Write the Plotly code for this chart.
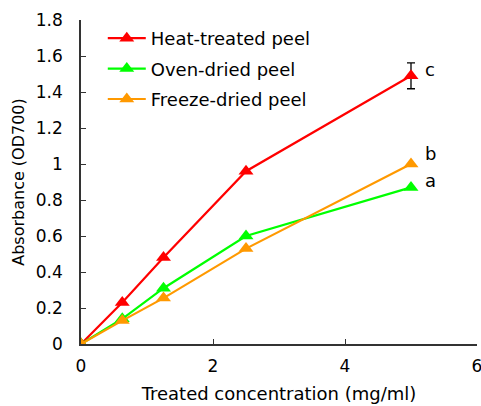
import plotly.graph_objects as go

conc = [0, 0.625, 1.25, 2.5, 5]
heat = [0, 0.23, 0.48, 0.96, 1.49]
heat_err = [0, 0, 0, 0, 0.072]
oven = [0, 0.14, 0.31, 0.60, 0.87]
freeze = [0, 0.13, 0.255, 0.53, 1.00]
names = ["Heat-treated peel", "Oven-dried peel", "Freeze-dried peel"]
letters = ["c", "a", "b"]
colors = ["#ff0000", "#00ff00", "#ff9900"]

FONT = "DejaVu Sans"

fig = go.Figure()
series = [heat, oven, freeze]
for i, (ys, nm, col) in enumerate(zip(series, names, colors)):
    kw = {}
    if i == 0:
        kw["error_y"] = dict(type="data", array=heat_err, color="black", thickness=1.3, width=4)
    fig.add_trace(go.Scatter(x=conc, y=ys, name=nm, mode="lines+markers", legendgroup=f"g{i}",
                             line=dict(color=col, width=2.2),
                             marker=dict(symbol="triangle-up", size=13, color=col), **kw))

shifts = {"c": 6, "a": 7, "b": 11}
for yv, t in zip([heat[-1], oven[-1], freeze[-1]], letters):
    fig.add_annotation(x=conc[-1], y=yv, text=t, showarrow=False, xanchor="left",
                       xshift=12, yshift=shifts[t],
                       font=dict(size=18, color="black", family=FONT))

fig.update_layout(
    width=481, height=406,
    margin=dict(l=81, r=4, t=20, b=62),
    paper_bgcolor="white", plot_bgcolor="white",
    font=dict(family=FONT, size=17, color="black"),
    showlegend=True,
    legend=dict(x=0.055, y=1.0, xanchor="left", yanchor="top", bgcolor="rgba(0,0,0,0)",
                font=dict(size=18, family=FONT), itemwidth=38, tracegroupgap=4,
                traceorder="grouped"),
    xaxis=dict(range=[0, 6], tickvals=[0, 2, 4, 6], showline=True, linecolor="#333",
               linewidth=1.5, ticks="inside", ticklen=5, tickcolor="#333", showgrid=False,
               zeroline=False, automargin=False, tickfont=dict(size=17), ticklabelstandoff=6,
               ticklabeloverflow="allow",
               title=dict(text="Treated concentration (mg/ml)", font=dict(size=18), standoff=12)),
    yaxis=dict(range=[0, 1.8], tickvals=[0, 0.2, 0.4, 0.6, 0.8, 1, 1.2, 1.4, 1.6, 1.8],
               ticktext=["0", "0.2", "0.4", "0.6", "0.8", "1", "1.2", "1.4", "1.6", "1.8"],
               showline=True, linecolor="#333", linewidth=1.5, ticks="inside", ticklen=5,
               tickcolor="#333", showgrid=False, zeroline=False, automargin=False,
               tickfont=dict(size=17), ticklabelstandoff=13,
               title=dict(text="Absorbance (OD700)", font=dict(size=16), standoff=7)),
)
fig.write_html("out.html", config={"displayModeBar": False},
               post_script="document.body.style.margin='0';document.body.style.overflow='hidden';")
